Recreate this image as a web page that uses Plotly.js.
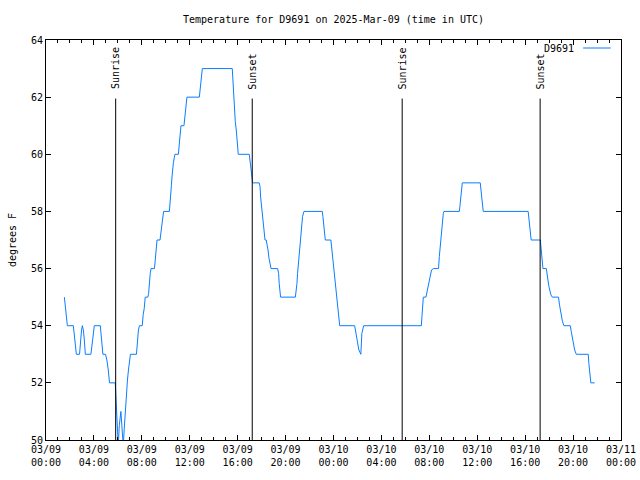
<!DOCTYPE html>
<html>
<head>
<meta charset="utf-8">
<script src="https://cdn.plot.ly/plotly-3.0.1.min.js"></script>
<style>html,body{margin:0;padding:0;background:#fff;}#chart{width:640px;height:480px;}</style>
</head>
<body>
<div id="chart"></div>
<script>
// Observation times (UTC) and temperatures (degrees F) for station D9691
const times = [
'2025-03-09 01:32','2025-03-09 01:38','2025-03-09 01:43','2025-03-09 01:47','2025-03-09 02:17','2025-03-09 02:23','2025-03-09 02:30','2025-03-09 02:32',
'2025-03-09 02:48','2025-03-09 02:53','2025-03-09 02:58','2025-03-09 03:02','2025-03-09 03:07','2025-03-09 03:12','2025-03-09 03:17','2025-03-09 03:45',
'2025-03-09 03:52','2025-03-09 03:57','2025-03-09 04:02','2025-03-09 04:32','2025-03-09 04:38','2025-03-09 04:45','2025-03-09 04:58','2025-03-09 05:05',
'2025-03-09 05:12','2025-03-09 05:17','2025-03-09 05:18','2025-03-09 05:47','2025-03-09 05:50','2025-03-09 05:55','2025-03-09 05:58','2025-03-09 06:02',
'2025-03-09 06:07','2025-03-09 06:12','2025-03-09 06:15','2025-03-09 06:20','2025-03-09 06:27','2025-03-09 06:32','2025-03-09 06:37','2025-03-09 06:40',
'2025-03-09 06:43','2025-03-09 06:48','2025-03-09 06:53','2025-03-09 07:00','2025-03-09 07:03','2025-03-09 07:33','2025-03-09 07:38','2025-03-09 07:43',
'2025-03-09 07:48','2025-03-09 08:02','2025-03-09 08:07','2025-03-09 08:12','2025-03-09 08:17','2025-03-09 08:30','2025-03-09 08:34','2025-03-09 08:37',
'2025-03-09 08:42','2025-03-09 08:46','2025-03-09 09:03','2025-03-09 09:06','2025-03-09 09:09','2025-03-09 09:13','2025-03-09 09:16','2025-03-09 09:31',
'2025-03-09 09:34','2025-03-09 09:39','2025-03-09 09:43','2025-03-09 09:49','2025-03-09 10:18','2025-03-09 10:21','2025-03-09 10:24','2025-03-09 10:28',
'2025-03-09 10:31','2025-03-09 10:34','2025-03-09 10:38','2025-03-09 10:43','2025-03-09 10:46','2025-03-09 11:03','2025-03-09 11:06','2025-03-09 11:09',
'2025-03-09 11:13','2025-03-09 11:16','2025-03-09 11:31','2025-03-09 11:34','2025-03-09 11:38','2025-03-09 11:41','2025-03-09 11:46','2025-03-09 12:48',
'2025-03-09 12:51','2025-03-09 12:55','2025-03-09 13:00','2025-03-09 13:03','2025-03-09 15:33','2025-03-09 15:36','2025-03-09 15:40','2025-03-09 15:43',
'2025-03-09 15:48','2025-03-09 15:53','2025-03-09 15:56','2025-03-09 16:00','2025-03-09 16:03','2025-03-09 16:58','2025-03-09 17:00','2025-03-09 17:03',
'2025-03-09 17:07','2025-03-09 17:10','2025-03-09 17:15','2025-03-09 17:48','2025-03-09 17:52','2025-03-09 17:55','2025-03-09 18:00','2025-03-09 18:03',
'2025-03-09 18:07','2025-03-09 18:12','2025-03-09 18:17','2025-03-09 18:23','2025-03-09 18:27','2025-03-09 18:32','2025-03-09 18:37','2025-03-09 18:42',
'2025-03-09 18:47','2025-03-09 19:20','2025-03-09 19:25','2025-03-09 19:28','2025-03-09 19:32','2025-03-09 19:35','2025-03-09 20:49','2025-03-09 20:52',
'2025-03-09 20:57','2025-03-09 21:00','2025-03-09 21:05','2025-03-09 21:09','2025-03-09 21:12','2025-03-09 21:15','2025-03-09 21:20','2025-03-09 21:25',
'2025-03-09 21:32','2025-03-09 23:04','2025-03-09 23:07','2025-03-09 23:11','2025-03-09 23:16','2025-03-09 23:19','2025-03-09 23:47','2025-03-10 00:01',
'2025-03-10 00:14','2025-03-10 00:31','2025-03-10 01:46','2025-03-10 01:51','2025-03-10 01:56','2025-03-10 02:01','2025-03-10 02:07','2025-03-10 02:17',
'2025-03-10 02:22','2025-03-10 02:31','2025-03-10 07:20','2025-03-10 07:23','2025-03-10 07:26','2025-03-10 07:30','2025-03-10 07:43','2025-03-10 07:48',
'2025-03-10 07:55','2025-03-10 08:00','2025-03-10 08:05','2025-03-10 08:11','2025-03-10 08:20','2025-03-10 08:46','2025-03-10 08:50','2025-03-10 08:55',
'2025-03-10 09:00','2025-03-10 09:05','2025-03-10 09:10','2025-03-10 09:13','2025-03-10 10:30','2025-03-10 10:33','2025-03-10 10:37','2025-03-10 10:40',
'2025-03-10 10:45','2025-03-10 12:15','2025-03-10 12:20','2025-03-10 12:25','2025-03-10 12:30','2025-03-10 16:15','2025-03-10 16:19','2025-03-10 16:22',
'2025-03-10 16:25','2025-03-10 16:30','2025-03-10 17:16','2025-03-10 17:19','2025-03-10 17:22','2025-03-10 17:25','2025-03-10 17:29','2025-03-10 17:46',
'2025-03-10 17:48','2025-03-10 17:54','2025-03-10 17:59','2025-03-10 18:04','2025-03-10 18:09','2025-03-10 18:16','2025-03-10 18:47','2025-03-10 18:52',
'2025-03-10 18:57','2025-03-10 19:02','2025-03-10 19:07','2025-03-10 19:14','2025-03-10 19:46','2025-03-10 19:51','2025-03-10 19:56','2025-03-10 20:01',
'2025-03-10 20:08','2025-03-10 20:16','2025-03-10 21:16','2025-03-10 21:19','2025-03-10 21:23','2025-03-10 21:26','2025-03-10 21:29','2025-03-10 21:48'
];
const temps = [
55.0,54.5,54.1,54,54,53.5,53.15,53,
53,53.5,53.85,54,53.85,53.5,53,53,
53.5,53.85,54,54,53.5,53,53,52.8,
52.45,52.1,52,52,51.6,51,50.4,49.8,
50.5,51,51,50.5,49.8,50.4,51,51,
51.6,52.1,52.45,52.8,53,53,53.5,53.85,
54,54,54.4,54.6,55,55,55.13,55.5,
55.83,56,56,56.2,56.5,56.9,57,57,
57.2,57.5,57.8,58,58,58.2,58.5,58.9,
59.2,59.5,59.7,59.9,60,60,60.2,60.5,
60.85,61,61,61.2,61.5,61.8,62,62,
62.2,62.5,62.8,63,63,62.6,62.0,61.55,
61.15,60.85,60.5,60.15,60,60,59.85,59.65,
59.4,59.2,59,59,58.87,58.5,58.17,57.88,
57.53,57.18,57,57,56.88,56.65,56.36,56.13,
56,56,55.83,55.48,55.13,55,55,55.13,
55.48,55.83,56.18,56.53,56.83,57.12,57.47,57.82,
58,58,57.82,57.53,57.18,57,57,56.07,
55.0,54,54,53.79,53.56,53.33,53.15,53.0,
53.73,54,54,54.32,54.76,55,55,55.16,
55.37,55.58,55.78,55.95,56,56,56.42,56.83,
57.23,57.64,57.93,58,58,58.17,58.52,58.87,
59,59,58.63,58.28,58,58,57.76,57.47,
57.18,57,57,56.77,56.53,56.18,56,56,
55.83,55.6,55.37,55.19,55.08,55,55,54.73,
54.49,54.32,54.14,54,54,53.79,53.56,53.38,
53.15,53,53,52.68,52.45,52.22,52,52
];
const seriesName = 'D9691';

// Sunrise / sunset markers
const eventTimes = ['2025-03-09 05:49','2025-03-09 17:13','2025-03-10 05:44','2025-03-10 17:15'];
const eventLabels = ['Sunrise','Sunset','Sunrise','Sunset'];
const eventLineTop = 61.95;
const eventLabelBase = 62.2;

const FONT = 'DejaVu Sans Mono, Liberation Mono, monospace';
const BLUE = '#0a7eff';

const shapes = eventTimes.map(t => ({
  type: 'line', xref: 'x', yref: 'y', x0: t, x1: t, y0: 50, y1: eventLineTop,
  line: {color: '#000', width: 1}
}));
// legend sample line (gnuplot style: text then sample)
shapes.push({type: 'line', xref: 'paper', yref: 'paper', x0: 0.934, x1: 0.982, y0: 0.98, y1: 0.98,
  line: {color: BLUE, width: 1}});

const annotations = eventTimes.map((t, i) => ({
  x: t, y: eventLabelBase, xref: 'x', yref: 'y', text: eventLabels[i], textangle: -90,
  showarrow: false, xanchor: 'center', yanchor: 'bottom', font: {family: FONT, size: 10, color: '#000'}
}));
annotations.push({x: 0.921, y: 0.98, xref: 'paper', yref: 'paper', text: seriesName, showarrow: false,
  xanchor: 'right', yanchor: 'middle', font: {family: FONT, size: 10, color: '#000'}});

const trace = {
  x: times, y: temps, type: 'scatter', mode: 'lines', name: seriesName,
  line: {color: BLUE, width: 1}, showlegend: false
};

const layout = {
  width: 640, height: 480,
  margin: {l: 46, r: 19, t: 40, b: 40, pad: 0},
  paper_bgcolor: '#fff', plot_bgcolor: '#fff',
  font: {family: FONT, size: 10, color: '#000'},
  title: {text: 'Temperature for D9691 on 2025-Mar-09 (time in UTC)', x: 0.5, xref: 'paper',
    y: 1 - 19/480, yref: 'container', yanchor: 'middle', font: {family: FONT, size: 10, color: '#000'}},
  xaxis: {
    type: 'date', range: ['2025-03-09 00:00', '2025-03-11 00:00'],
    tick0: '2025-03-09 00:00', dtick: 4*3600*1000, tickformat: '%m/%d<br>%H:%M',
    ticks: 'inside', ticklen: 5, tickwidth: 1, tickcolor: '#000',
    minor: {dtick: 3600*1000, ticks: 'inside', ticklen: 3, tickwidth: 1, tickcolor: '#000', showgrid: false},
    showline: true, linecolor: '#000', linewidth: 1, mirror: 'ticks', showgrid: false, zeroline: false,
    tickfont: {family: FONT, size: 10, color: '#000'}, fixedrange: true
  },
  yaxis: {
    range: [50, 64], dtick: 2, tick0: 50,
    ticks: 'inside', ticklen: 5, tickwidth: 1, tickcolor: '#000',
    showline: true, linecolor: '#000', linewidth: 1, mirror: 'ticks', showgrid: false, zeroline: false,
    tickfont: {family: FONT, size: 10, color: '#000'},
    title: {text: 'degrees F', standoff: 12, font: {family: FONT, size: 10, color: '#000'}}, fixedrange: true
  },
  shapes: shapes,
  annotations: annotations,
  showlegend: false
};

Plotly.newPlot('chart', [trace], layout, {displayModeBar: false, staticPlot: true});
</script>
</body>
</html>
